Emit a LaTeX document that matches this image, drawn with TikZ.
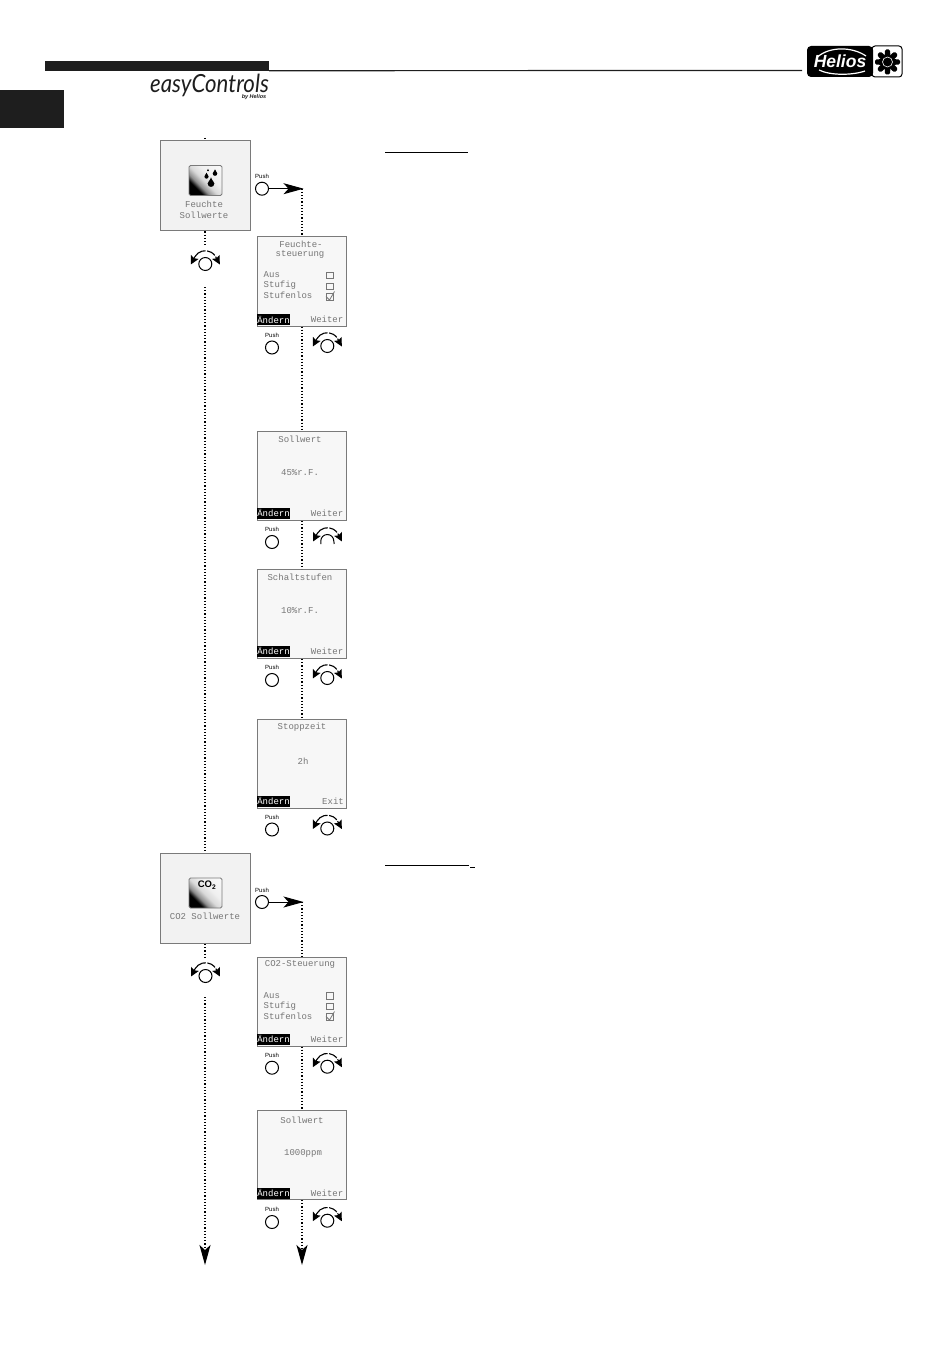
\documentclass[tikz,border=0pt]{standalone}
\usepackage{fontspec}
\usetikzlibrary{arrows.meta}
\setmainfont{Liberation Sans}
\newfontfamily\lcdfont{Liberation Mono}
\newfontfamily\logofont{Lato}
\definecolor{lcdgray}{HTML}{767676}
\definecolor{framegray}{HTML}{7A7A7A}
\definecolor{barblack}{HTML}{1E1E1E}
\pgfdeclarehorizontalshading{iconshade}{100bp}{color(0bp)=(black); color(31bp)=(black); color(38bp)=(black!45); color(48bp)=(black!15); color(60bp)=(black!6); color(100bp)=(white)}
\newcommand{\knobarc}[1]{\draw[knobturn] ([shift={(-14.5pt,-.5pt)}]#1.center) -- ([shift={(-10.4pt,7.3pt)}]#1.center) arc[start angle=150, end angle=30, radius=12pt] -- ([shift={(14.5pt,-.5pt)}]#1.center);}
\newcommand{\waterdrop}[3]{\fill[black, shift={(#1,#2)}, scale=#3] (0,-1.8) .. controls (.3,-.8) and (1,-.5) .. (1,0) .. controls (1,.7) and (.5,1) .. (0,1) .. controls (-.5,1) and (-1,.7) .. (-1,0) .. controls (-1,-.5) and (-.3,-.8) .. (0,-1.8) -- cycle;}
\begin{document}
\begin{tikzpicture}
[x=1pt, y=-1pt, every node/.style={inner sep=0pt},
 bigscreen/.style={rectangle, minimum size=90pt, fill=black!5, draw=framegray, line width=1pt},
 smallscreen/.style={rectangle, minimum width=89pt, minimum height=89pt, fill=black!3, draw=framegray, line width=1pt},
 lcd/.style={font=\lcdfont\fontsize{9}{9}\selectfont, text=lcdgray},
 softkey/.style={rectangle, minimum width=33pt, minimum height=11pt, fill=black, text=white, font=\lcdfont\fontsize{9}{9}\selectfont},
 tickbox/.style={rectangle, minimum size=6.5pt, draw=lcdgray, line width=0.5pt},
 pushknob/.style={circle, minimum size=13pt, draw=black, line width=1pt},
 turnknob/.style={circle, minimum size=13pt, draw=black, line width=1pt},
 pushtext/.style={font=\fontsize{6}{6}\selectfont},
 icon/.style={rectangle, rounded corners=1.5pt, minimum width=33pt, minimum height=30pt, draw=framegray, line width=0.8pt, shading=iconshade, shading angle=45},
 flow/.style={line width=1.2pt, dash pattern=on 1.2pt off 2pt, color=black},
 flowend/.style={flow, -{Stealth[length=20pt, width=11pt, inset=5pt]}},
 pusharrow/.style={line width=1pt, -{Stealth[length=20pt, width=11pt, inset=5pt]}},
 knobturn/.style={line width=1.1pt, dash pattern=on 15pt off 1.5pt on 9pt off 1.5pt on 30pt, {Stealth[length=8.5pt, width=8.5pt, inset=1.5pt]}-{Stealth[length=8.5pt, width=8.5pt, inset=1.5pt]}},
 rule/.style={line width=1.2pt, color=barblack}]
\useasboundingbox (0,0) rectangle (950,1348);
% page header
\node (bar) [rectangle, minimum width=224pt, minimum height=10pt, fill=barblack] at (157,66) {};
\node (tab) [rectangle, minimum width=64pt, minimum height=38pt, fill=barblack] at (32,109) {};
\coordinate (lineend) at (802,70.5);
\draw [rule] ([yshift=.5pt]bar.south east) to (lineend);
\node (easy) [font=\logofont\itshape\fontsize{25}{25}\selectfont, text=barblack, xscale=.89, transform shape] at (209.5,85.5) {easyControls};
\node (byhelios) [font=\bfseries\itshape\fontsize{5.5}{5.5}\selectfont, text=barblack] at (254,97.5) {by Helios};
\node (gearbox) [rectangle, rounded corners=3pt, minimum width=30pt, minimum height=31pt, draw=black, line width=1pt] at (887,61.5) {};
\node (logo) [rectangle, rounded corners=4pt, minimum width=66pt, minimum height=31pt, fill=black, text=white, font=\bfseries\itshape\fontsize{17.5}{17.5}\selectfont] at (840,61.5) {Helios};
\draw [white, line width=1.2pt] (818,56.5) .. controls (830,46.5) and (852,46.5) .. (866,56);
\draw [white, line width=1.2pt] (819,70) .. controls (830,75.5) and (852,75.5) .. (865,71);
\foreach \a in {0,45,...,315}
  \fill [black, shift={(887.5,62)}, rotate=\a] (-3.2,0) -- (-2.6,-11) -- (-1.2,-12.5) -- (1.2,-12.5) -- (2.6,-11) -- (3.2,0) -- cycle;
\fill [black] (887.5,62) circle [radius=7pt];
\draw [white, line width=0.6pt] (887.5,62) circle [radius=5pt];
% blank headings
\coordinate (u1a) at (385,152.5);
\coordinate (u1b) at (468,152.5);
\coordinate (u2a) at (385,865);
\coordinate (u2b) at (469,865);
\coordinate (u3a) at (470,867);
\coordinate (u3b) at (475,867);
\draw [line width=0.8pt] (u1a) to (u1b);
\draw [line width=0.8pt] (u2a) to (u2b);
\draw [line width=0.8pt] (u3a) to (u3b);
% screens
\node (b1) [bigscreen] at (205,186) {};
\node (b2) [bigscreen] at (205,898.5) {};
\node (s1) [smallscreen] at (302,281.5) {};
\node (s2) [smallscreen] at (302,476) {};
\node (s3) [smallscreen] at (302,614) {};
\node (s4) [smallscreen] at (302,763.5) {};
\node (s5) [smallscreen] at (302,1001.5) {};
\node (s6) [smallscreen] at (302,1155) {};
% icons
\node (i1) [icon] at (205.5,180.5) {};
\waterdrop{208}{170.5}{0.9}
\waterdrop{206.5}{176.5}{2.1}
\waterdrop{215}{173.5}{2.3}
\waterdrop{211}{183.5}{3.4}
\node (i2) [icon] at (205.5,893) {};
\node (i2t) [font=\bfseries\fontsize{9.5}{9.5}\selectfont] at (207,885) {CO\textsubscript{2}};
% screen texts
\node (b1a) [lcd] at (204,204) {Feuchte};
\node (b1b) [lcd] at (204,215) {Sollwerte};
\node (b2a) [lcd] at (205,916) {CO2 Sollwerte};
\node (s1a) [lcd] at (301,244) {Feuchte-};
\node (s1b) [lcd] at (300,254) {steuerung};
\node (s1c) [lcd, anchor=west] at (263.5,275) {Aus};
\node (s1d) [lcd, anchor=west] at (263.5,285.5) {Stufig};
\node (s1e) [lcd, anchor=west] at (263.5,295.5) {Stufenlos};
\node (c1) [tickbox] at (329.5,275) {};
\node (c2) [tickbox] at (329.5,286) {};
\node (c3) [tickbox] at (329.5,296.5) {};
\draw [line width=0.8pt, color=lcdgray] (c3.west) to (c3.south) to ([xshift=1.5pt, yshift=1.5pt]c3.north east);
\node (s1k) [softkey] at (273.5,319.5) {Ändern};
\node (s1w) [lcd, anchor=east] at (343.5,319.5) {Weiter};
\node (s2a) [lcd] at (300,439) {Sollwert};
\node (s2b) [lcd] at (300,473) {45\%r.F.};
\node (s2k) [softkey] at (273.5,513) {Ändern};
\node (s2w) [lcd, anchor=east] at (343.5,513) {Weiter};
\node (s3a) [lcd] at (300,577) {Schaltstufen};
\node (s3b) [lcd] at (300,611) {10\%r.F.};
\node (s3k) [softkey] at (273.5,651) {Ändern};
\node (s3w) [lcd, anchor=east] at (343.5,651) {Weiter};
\node (s4a) [lcd] at (302,727) {Stoppzeit};
\node (s4b) [lcd] at (303,761) {2h};
\node (s4k) [softkey] at (273.5,801) {Ändern};
\node (s4w) [lcd, anchor=east] at (344,801) {Exit};
\node (s5a) [lcd] at (300,964) {CO2-Steuerung};
\node (s5c) [lcd, anchor=west] at (263.5,996) {Aus};
\node (s5d) [lcd, anchor=west] at (263.5,1006) {Stufig};
\node (s5e) [lcd, anchor=west] at (263.5,1016) {Stufenlos};
\node (c4) [tickbox] at (329.5,995.5) {};
\node (c5) [tickbox] at (329.5,1006) {};
\node (c6) [tickbox] at (329.5,1016.5) {};
\draw [line width=0.8pt, color=lcdgray] (c6.west) to (c6.south) to ([xshift=1.5pt, yshift=1.5pt]c6.north east);
\node (s5k) [softkey] at (273.5,1039) {Ändern};
\node (s5w) [lcd, anchor=east] at (343.5,1039) {Weiter};
\node (s6a) [lcd] at (302,1120) {Sollwert};
\node (s6b) [lcd] at (303,1153) {1000ppm};
\node (s6k) [softkey] at (273.5,1193) {Ändern};
\node (s6w) [lcd, anchor=east] at (343.5,1193) {Weiter};
% push buttons
\node (p1) [pushknob] at (262,188.7) {};
\node (p1t) [pushtext] at (262,176.7) {Push};
\node (p2) [pushknob] at (262,902) {};
\node (p2t) [pushtext] at (262,890) {Push};
\node (p3) [pushknob] at (272,347.5) {};
\node (p3t) [pushtext] at (272,335.7) {Push};
\node (p4) [pushknob] at (272,542) {};
\node (p4t) [pushtext] at (272,529.5) {Push};
\node (p5) [pushknob] at (272,680) {};
\node (p5t) [pushtext] at (272,667.5) {Push};
\node (p6) [pushknob] at (272,829.5) {};
\node (p6t) [pushtext] at (272,817.5) {Push};
\node (p7) [pushknob] at (272,1067.7) {};
\node (p7t) [pushtext] at (272,1055.7) {Push};
\node (p8) [pushknob] at (272,1222) {};
\node (p8t) [pushtext] at (272,1209.5) {Push};
% turn knobs
\node (k1) [turnknob] at (205.3,264) {};
\node (k2) [turnknob] at (205.5,976) {};
\node (k3) [turnknob] at (327.3,346) {};
\node (k4) [circle, minimum size=13pt] at (327.5,541) {};
\node (k5) [turnknob] at (327.3,678) {};
\node (k6) [turnknob] at (327.3,828.5) {};
\node (k7) [turnknob] at (327.3,1066.7) {};
\node (k8) [turnknob] at (327.3,1220.7) {};
\draw [line width=1pt] ([yshift=-3pt]k4.west) to (k4.west) arc [start angle=180, end angle=0, radius=6.5pt] to ([yshift=-3pt]k4.east);
\knobarc{k1}
\knobarc{k2}
\knobarc{k3}
\knobarc{k4}
\knobarc{k5}
\knobarc{k6}
\knobarc{k7}
\knobarc{k8}
% flow lines
\coordinate (t0) at (205,138);
\coordinate (g1) at (205,247);
\coordinate (g2) at (205,287);
\coordinate (g3) at (205,958);
\coordinate (g4) at (205,997);
\coordinate (endL) at (205,1265);
\coordinate (endR) at (302,1265);
\coordinate (a1) at (303.5,188.7);
\coordinate (a2) at (303.5,902);
\coordinate (d1) at (302,188.7);
\coordinate (d2) at (302,902);
\draw [flow] (t0) to (b1.north);
\draw [flow] (b1.south) to (g1);
\draw [flow] (g2) to (b2.north);
\draw [flow] (b2.south) to (g3);
\draw [flowend] (g4) to (endL);
\draw [pusharrow] (p1) to (a1);
\draw [pusharrow] (p2) to (a2);
\draw [flow] (d1) to (s1.north);
\draw [flow] (s1.south) to (s2.north);
\draw [flow] (s2.south) to (s3.north);
\draw [flow] (s3.south) to (s4.north);
\draw [flow] (d2) to (s5.north);
\draw [flow] (s5.south) to (s6.north);
\draw [flowend] (s6.south) to (endR);
\end{tikzpicture}
\end{document}
